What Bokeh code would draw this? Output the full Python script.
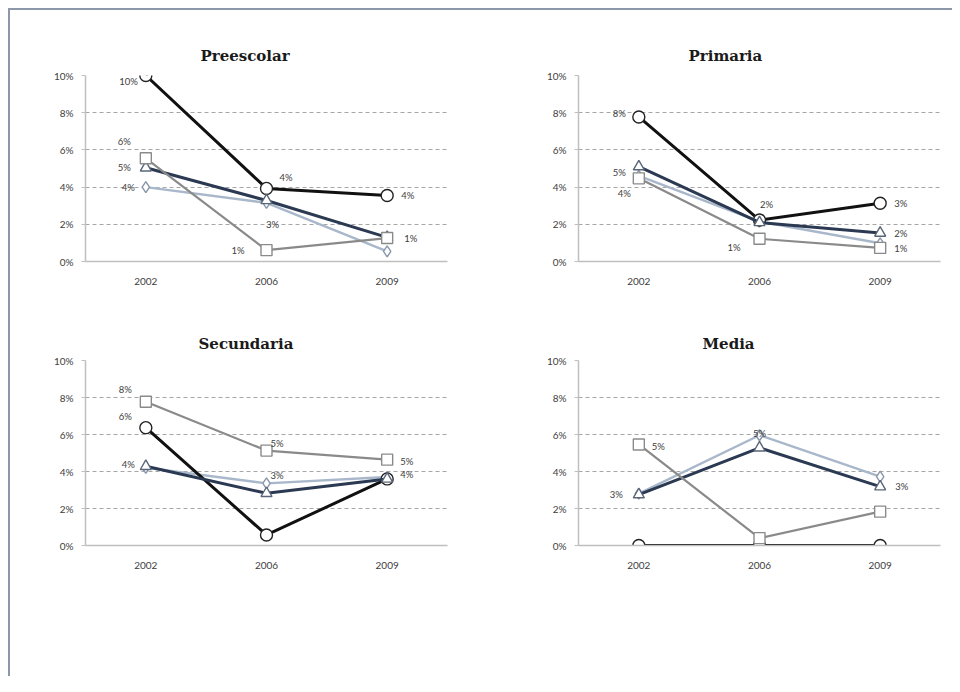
from bokeh.plotting import figure
from bokeh.models import Range1d, FixedTicker, Legend, LegendItem, ColumnDataSource, FactorRange
from bokeh.layouts import column, row
from bokeh.embed import file_html
from bokeh.resources import INLINE
from bokeh.core.properties import value

# ---------------- data ----------------
years = ["2002", "2006", "2009"]
series_names = ["Of_Urb.", "Of_Rur.", "Oficial", "No Oficial"]
y_ticks = [0, 2, 4, 6, 8, 10]
y_tick_labels = ["0%", "2%", "4%", "6%", "8%", "10%"]

preescolar_urb = [4.0, 3.15, 0.54]
preescolar_rur = [10.0, 3.93, 3.55]
preescolar_ofi = [5.04, 3.28, 1.3]
preescolar_noof = [5.55, 0.61, 1.26]

primaria_urb = [4.6, 2.15, 0.98]
primaria_rur = [7.77, 2.23, 3.13]
primaria_ofi = [5.1, 2.1, 1.53]
primaria_noof = [4.47, 1.22, 0.73]

secundaria_urb = [4.2, 3.36, 3.7]
secundaria_rur = [6.37, 0.57, 3.6]
secundaria_ofi = [4.28, 2.82, 3.6]
secundaria_noof = [7.77, 5.13, 4.64]

media_urb = [2.8, 5.96, 3.72]
media_rur = [0.0, 0.0, 0.0]
media_ofi = [2.75, 5.28, 3.18]
media_noof = [5.46, 0.4, 1.83]

# ---------------- styles ----------------
COLORS = ["#a9b7cb", "#111111", "#2b3a52", "#8a8a8a"]
LINE_W = [2.4, 3.0, 3.0, 2.2]
MARKERS = ["diamond", "circle", "triangle", "square"]
MSIZE = [11, 12, 11, 11]
MLINE = ["#8896aa", "#222222", "#5a6678", "#8a8a8a"]
TXT = "#404040"
FONT = "Lato"

# label specs: (series index, point index, dx, dy, align)
PRE_LABELS = [(1, 0, -8, 6, "right"), (1, 1, 13, -11, "left"), (1, 2, 14, 0, "left"),
              (3, 0, -15, -17, "right"), (2, 0, -15, 0, "right"), (0, 0, -11, 0, "right"),
              (0, 1, 6, 22, "center"), (3, 1, -22, 0, "right"), (3, 2, 17, 0, "left")]
PRI_LABELS = [(1, 0, -13, -3, "right"), (2, 0, -13, 6, "right"), (3, 0, -8, 15, "right"),
              (1, 1, 7, -16, "center"), (3, 1, -19, 9, "right"), (1, 2, 14, 0, "left"),
              (2, 2, 14, 0, "left"), (3, 2, 14, 1, "left")]
SEC_LABELS = [(3, 0, -14, -12, "right"), (1, 0, -14, -11, "right"), (2, 0, -11, -2, "right"),
              (3, 1, 4, -7, "left"), (0, 1, 4, -8, "left"), (3, 2, 13, 2, "left"),
              (0, 2, 13, -3, "left")]
MED_LABELS = [(2, 0, -16, 0, "right"), (3, 0, 13, 2, "left"), (2, 1, 0, -14, "center"),
              (2, 2, 15, 0, "left")]


def make_panel(title, series, labels, width, height, bl, br, bt, bb, t_off, t_stand, leg_loc):
    p = figure(width=width, height=height, x_range=FactorRange(*years),
               y_range=Range1d(y_ticks[0], y_ticks[-1]),
               output_backend="svg", toolbar_location=None,
               min_border_left=bl, min_border_right=br, min_border_top=bt, min_border_bottom=bb)
    p.x_range.range_padding = 0
    p.outline_line_color = None
    p.background_fill_color = "white"
    p.border_fill_color = "white"

    p.title.text = title
    p.title.align = "left"
    p.title.offset = t_off
    p.title.standoff = t_stand
    p.title.text_font = "DejaVu Serif"
    p.title.text_font_style = "bold"
    p.title.text_font_size = "15px"
    p.title.text_color = "#1a1a1a"

    xa = p.xaxis[0]
    xa.major_tick_line_color = None
    xa.minor_tick_line_color = None
    xa.axis_line_color = "#bfbfbf"
    xa.axis_line_width = 1.5
    xa.major_label_text_font = FONT
    xa.major_label_text_font_size = "10px"
    xa.major_label_text_color = TXT
    xa.major_label_standoff = 10

    ya = p.yaxis[0]
    ya.ticker = FixedTicker(ticks=y_ticks)
    ya.major_label_overrides = {t: l for t, l in zip(y_ticks, y_tick_labels)}
    ya.major_tick_in = 0
    ya.major_tick_out = 4
    ya.major_tick_line_color = "#bfbfbf"
    ya.minor_tick_line_color = None
    ya.axis_line_color = "#bfbfbf"
    ya.axis_line_width = 1.5
    ya.major_label_text_font = FONT
    ya.major_label_text_font_size = "10px"
    ya.major_label_text_color = TXT
    ya.major_label_standoff = 8

    p.xgrid.visible = False
    p.ygrid.grid_line_color = "#a6a6a6"
    p.ygrid.grid_line_dash = "4 3"
    p.ygrid.grid_line_width = 1

    items = []
    for i, (name, vals) in enumerate(zip(series_names, series)):
        src = ColumnDataSource(dict(x=years, y=vals))
        ln = p.line("x", "y", source=src, line_color=COLORS[i], line_width=LINE_W[i])
        mk = p.scatter("x", "y", source=src, marker=MARKERS[i], size=MSIZE[i],
                       fill_color="white", line_color=MLINE[i], line_width=1.4)
        items.append(LegendItem(label=name, renderers=[ln, mk]))

    lx, ly, lt, ldx, ldy, lal = [], [], [], [], [], []
    for (si, pi, dx, dy, al) in labels:
        v = series[si][pi]
        lx.append(years[pi])
        ly.append(v)
        lt.append("%d%%" % int(v + 0.5))
        ldx.append(dx)
        ldy.append(dy)
        lal.append(al)
    lsrc = ColumnDataSource(dict(x=lx, y=ly, t=lt, dx=ldx, dy=ldy, al=lal))
    p.text("x", "y", text="t", source=lsrc, x_offset="dx", y_offset="dy", text_align="al",
           text_baseline="middle", text_font=value(FONT), text_font_size="9.5px",
           text_color=TXT)

    legend = Legend(items=items, orientation="horizontal", location=leg_loc,
                    border_line_color=None, background_fill_alpha=0,
                    glyph_width=28, glyph_height=12, label_height=12, label_standoff=2,
                    spacing=32, padding=0, label_text_font=FONT,
                    label_text_font_size="9.5px", label_text_color=TXT)
    p.add_layout(legend)
    return p


p1 = make_panel("Preescolar", [preescolar_urb, preescolar_rur, preescolar_ofi, preescolar_noof],
                PRE_LABELS, 478, 310, 75, 41, 65, 59, 115, 22, (-13, -55))
p2 = make_panel("Primaria", [primaria_urb, primaria_rur, primaria_ofi, primaria_noof],
                PRI_LABELS, 464, 310, 90, 12, 65, 59, 110, 22, (-13, -55))
p3 = make_panel("Secundaria", [secundaria_urb, secundaria_rur, secundaria_ofi, secundaria_noof],
                SEC_LABELS, 478, 356, 75, 41, 38, 131, 113, 15, (-13, -54))
p4 = make_panel("Media", [media_urb, media_rur, media_ofi, media_noof],
                MED_LABELS, 464, 356, 90, 12, 40, 130, 124, 15, (-13, -57))

layout = column(row(p1, p2), row(p3, p4),
                styles={"margin-left": "8px", "margin-top": "8px",
                        "border-left": "2px solid #8d97aa", "border-top": "2px solid #8d97aa"})

with open("out.html", "w") as f:
    f.write(file_html(layout, INLINE))
